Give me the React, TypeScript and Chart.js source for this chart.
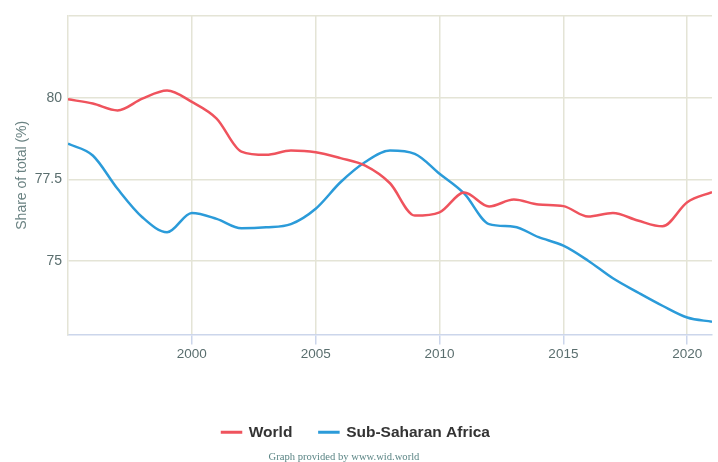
import React, { useEffect, useRef } from "react";
import { Chart, registerables } from "chart.js";

Chart.register(...registerables);

const years = [1995, 1996, 1997, 1998, 1999, 2000, 2001, 2002, 2003, 2004, 2005, 2006, 2007, 2008, 2009, 2010, 2011, 2012, 2013, 2014, 2015, 2016, 2017, 2018, 2019, 2020, 2021];
const worldValues = [79.95, 79.82, 79.61, 79.97, 80.22, 79.87, 79.36, 78.35, 78.25, 78.38, 78.33, 78.15, 77.92, 77.38, 76.39, 76.49, 77.1, 76.67, 76.88, 76.73, 76.68, 76.36, 76.47, 76.24, 76.06, 76.8, 77.11];
const ssaValues = [78.59, 78.23, 77.21, 76.34, 75.88, 76.47, 76.29, 76.0, 76.03, 76.13, 76.6, 77.41, 78.03, 78.38, 78.28, 77.67, 77.06, 76.13, 76.05, 75.73, 75.47, 75.01, 74.47, 74.04, 73.63, 73.27, 73.14];
const xTickValues = [2000, 2005, 2010, 2015, 2020];
const yTickValues = [75, 77.5, 80, 82.5];
const yLabelled = [75, 77.5, 80];
const seriesNames = ["World", "Sub-Saharan Africa"];
const yAxisTitle = "Share of total (%)";
const footerText = "Graph provided by www.wid.world";

const RED = "#ef535d";
const BLUE = "#2b9bd9";
const GRID = "#e4e4d6";
const AXIS_BLUE = "#ccd6eb";
const FONT = "'Liberation Sans', Arial, Helvetica, sans-serif";

const footerPlugin = {
  id: "footerText",
  afterDraw(chart: any) {
    const ctx = chart.ctx;
    ctx.save();
    ctx.font = "10.6px 'Liberation Serif', 'DejaVu Serif', serif";
    ctx.fillStyle = "#5b8585";
    ctx.textAlign = "center";
    ctx.textBaseline = "middle";
    ctx.fillText(footerText, 344, 457.5);
    ctx.restore();
  },
};

export default function App() {
  const ref = useRef<HTMLCanvasElement>(null);
  useEffect(() => {
    if (!ref.current) return;
    const chart = new Chart(ref.current, {
      type: "line",
      data: {
        datasets: [
          {
            label: seriesNames[0],
            data: years.map((y, i) => ({ x: y, y: worldValues[i] })),
            borderColor: RED,
            backgroundColor: RED,
            borderWidth: 2.5,
            pointRadius: 0,
            cubicInterpolationMode: "monotone",
          },
          {
            label: seriesNames[1],
            data: years.map((y, i) => ({ x: y, y: ssaValues[i] })),
            borderColor: BLUE,
            backgroundColor: BLUE,
            borderWidth: 2.5,
            pointRadius: 0,
            cubicInterpolationMode: "monotone",
          },
        ],
      },
      plugins: [footerPlugin],
      options: {
        animation: false,
        responsive: false,
        layout: { padding: { top: 16, right: 6, left: 0, bottom: 12 } },
        scales: {
          x: {
            type: "linear",
            min: 1995,
            max: 2021,
            afterBuildTicks: (s: any) => {
              s.ticks = xTickValues.map((v) => ({ value: v }));
            },
            afterFit: (s: any) => {
              s.height = 63;
            },
            ticks: {
              callback: (v: any) => String(v),
              color: "#5a6e6e",
              font: { family: FONT, size: 13.5 },
              padding: 2,
              maxRotation: 0,
            },
            grid: {
              color: GRID,
              lineWidth: 1.5,
              tickColor: AXIS_BLUE,
              tickLength: 10,
            },
            border: { color: AXIS_BLUE, width: 1.5 },
          },
          y: {
            min: 72.75,
            max: 82.5,
            afterBuildTicks: (s: any) => {
              s.ticks = yTickValues.map((v) => ({ value: v }));
            },
            afterFit: (s: any) => {
              s.width = 68;
            },
            ticks: {
              callback: (v: any) => (yLabelled.includes(Number(v)) ? String(v) : ""),
              color: "#5a6e6e",
              font: { family: FONT, size: 14 },
              padding: 6,
            },
            grid: { color: GRID, lineWidth: 1.5, drawTicks: false },
            border: { color: GRID, width: 1.5 },
            title: {
              display: true,
              text: yAxisTitle,
              color: "#6a8282",
              font: { family: FONT, size: 14 },
              padding: { top: 14, bottom: 4 },
            },
          },
        },
        plugins: {
          legend: {
            position: "bottom",
            labels: {
              boxWidth: 19,
              boxHeight: 0.5,
              padding: 27,
              color: "#333333",
              font: { family: FONT, size: 15.5, weight: "bold" },
            },
          },
          tooltip: { enabled: false },
        },
      },
    } as any);
    return () => chart.destroy();
  }, []);
  return (
    <div style={{ position: "fixed", left: 0, top: 0, width: 718, height: 462, background: "#fff" }}>
      <canvas ref={ref} width={718} height={462} />
    </div>
  );
}
